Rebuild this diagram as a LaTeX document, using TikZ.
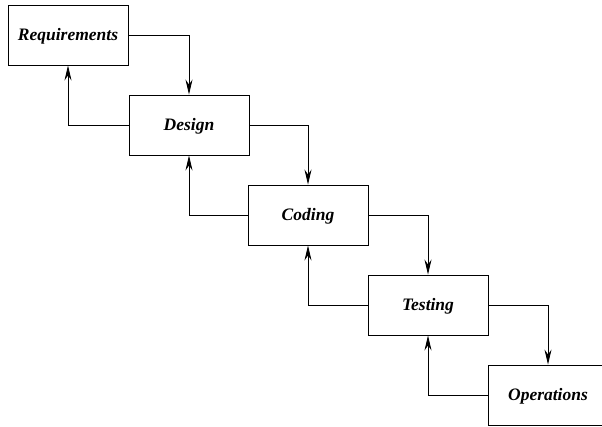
\documentclass[tikz,border=0pt]{standalone}
\usepackage{fontspec}
\setmainfont{Liberation Serif}
\usetikzlibrary{arrows.meta}
\tikzset{
  stage/.style={draw, line width=0.9bp, minimum width=120bp, minimum height=60bp,
    inner sep=0pt, text depth=4bp, text height=14bp,
    font=\fontsize{17.5bp}{21bp}\selectfont\bfseries\itshape},
  flow/.style={draw, line width=0.9bp,
    -{Stealth[length=15bp, width=7bp, inset=5bp]}}
}
\begin{document}
\begin{tikzpicture}[x=1bp, y=1bp]
  \useasboundingbox (0,0) rectangle (602,426);
  \clip (0,0) rectangle (602,426);
  \fill[white] (0,0) rectangle (602,426);
  % the five phases, stepping down to the right
  \node[stage] (req) at (68,391)  {Requirements};
  \node[stage] (des) at (189,301) {Design};
  \node[stage] (cod) at (308,211) {Coding};
  \node[stage] (tst) at (428,121) {Testing};
  \node[stage] (ops) at (548,31)  {Operations};
  % forward flow
  \draw[flow] (req.east) -| (des.north);
  \draw[flow] (des.east) -| (cod.north);
  \draw[flow] (cod.east) -| (tst.north);
  \draw[flow] (tst.east) -| (ops.north);
  % feedback flow
  \draw[flow] (des.west) -| (req.south);
  \draw[flow] (cod.west) -| (des.south);
  \draw[flow] (tst.west) -| (cod.south);
  \draw[flow] (ops.west) -| (tst.south);
\end{tikzpicture}
\end{document}
